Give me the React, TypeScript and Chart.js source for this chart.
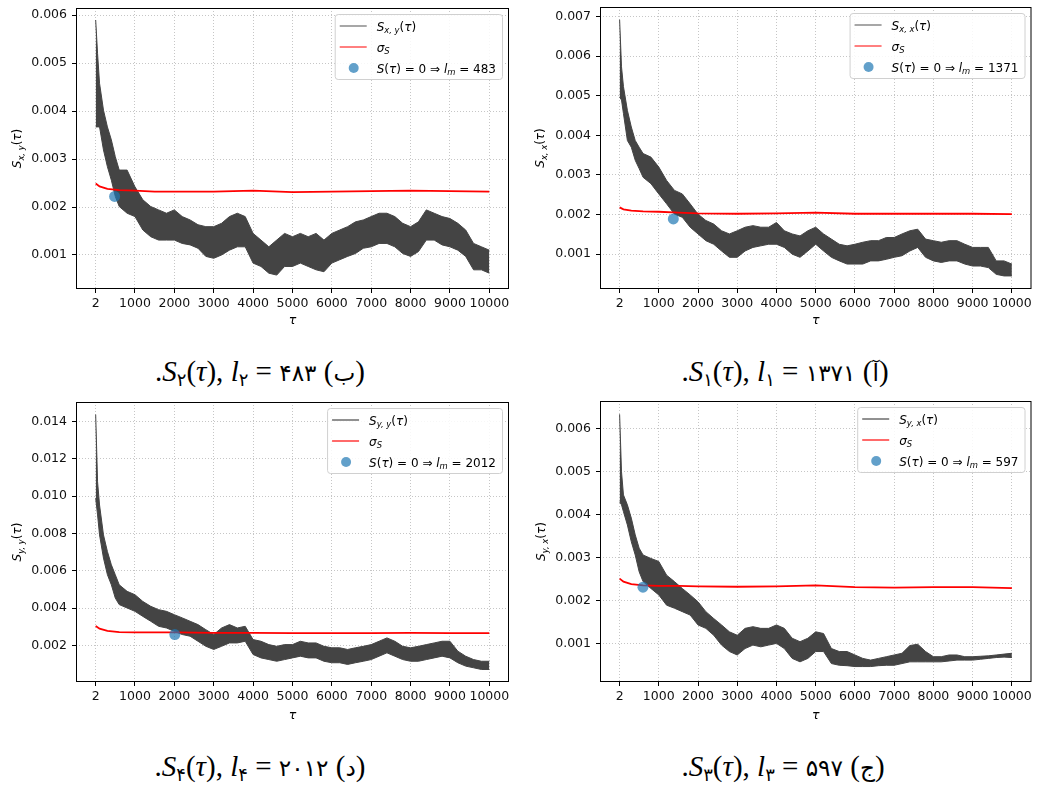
import React, { useEffect, useRef } from 'react';
import { Chart, registerables } from 'chart.js';
Chart.register(...registerables);

// ---------------- data ----------------
const TAU = [2, 50, 100, 200, 300, 400, 500, 600, 800, 1000, 1200, 1400, 1600, 1800, 2000, 2200, 2400, 2600, 2800, 3000, 3200, 3400, 3600, 3800, 4000, 4200, 4400, 4600, 4800, 5000, 5200, 5400, 5600, 5800, 6000, 6200, 6400, 6600, 6800, 7000, 7200, 7400, 7600, 7800, 8000, 8200, 8400, 8600, 8800, 9000, 9200, 9400, 9600, 9800, 10000];
const TAU_SIGMA = [2, 100, 300, 600, 1000, 1500, 2000, 3000, 4000, 5000, 6000, 7000, 8000, 9000, 10000];
const X_TICKS = [2, 1000, 2000, 3000, 4000, 5000, 6000, 7000, 8000, 9000, 10000];

// S_{x,y}  (panel ب)
const SXY_UPPER = [0.00590, 0.00520, 0.00458, 0.00402, 0.00367, 0.00340, 0.00305, 0.00277, 0.00277, 0.00242, 0.00215, 0.00201, 0.00194, 0.00187, 0.00194, 0.00180, 0.00173, 0.00163, 0.00159, 0.00159, 0.00166, 0.00180, 0.00187, 0.00180, 0.00145, 0.00131, 0.00117, 0.00131, 0.00145, 0.00138, 0.00145, 0.00138, 0.00145, 0.00131, 0.00145, 0.00152, 0.00159, 0.00169, 0.00173, 0.00180, 0.00187, 0.00187, 0.00180, 0.00166, 0.00159, 0.00169, 0.00194, 0.00187, 0.00180, 0.00176, 0.00166, 0.00152, 0.00124, 0.00117, 0.00110];
const SXY_LOWER = [0.00367, 0.00367, 0.00367, 0.00319, 0.00284, 0.00256, 0.00222, 0.00201, 0.00187, 0.00180, 0.00152, 0.00138, 0.00131, 0.00131, 0.00131, 0.00124, 0.00121, 0.00114, 0.00097, 0.00093, 0.00100, 0.00110, 0.00117, 0.00117, 0.00083, 0.00076, 0.00062, 0.00058, 0.00076, 0.00076, 0.00083, 0.00076, 0.00069, 0.00065, 0.00083, 0.00090, 0.00097, 0.00103, 0.00114, 0.00117, 0.00124, 0.00124, 0.00117, 0.00103, 0.00097, 0.00107, 0.00131, 0.00131, 0.00121, 0.00117, 0.00110, 0.00097, 0.00069, 0.00069, 0.00062];
const SIGMA_XY = [0.00249, 0.00243, 0.00238, 0.00235, 0.00234, 0.00232, 0.00232, 0.00232, 0.00234, 0.00231, 0.00232, 0.00233, 0.00234, 0.00233, 0.00232];
const LM_XY = 483;
const LM_XY_VAL = 0.00222;
const Y_TICKS_XY = [0.001, 0.002, 0.003, 0.004, 0.005, 0.006];

// S_{x,x}  (panel آ)
const SXX_UPPER = [0.00692, 0.00573, 0.00523, 0.00463, 0.00421, 0.00387, 0.00370, 0.00354, 0.00345, 0.00320, 0.00286, 0.00261, 0.00252, 0.00227, 0.00201, 0.00185, 0.00176, 0.00159, 0.00151, 0.00159, 0.00168, 0.00172, 0.00168, 0.00168, 0.00180, 0.00159, 0.00151, 0.00146, 0.00159, 0.00168, 0.00151, 0.00138, 0.00125, 0.00121, 0.00125, 0.00130, 0.00134, 0.00134, 0.00142, 0.00142, 0.00151, 0.00159, 0.00163, 0.00138, 0.00134, 0.00130, 0.00134, 0.00134, 0.00125, 0.00117, 0.00117, 0.00117, 0.00083, 0.00083, 0.00075];
const SXX_LOWER = [0.00497, 0.00489, 0.00455, 0.00387, 0.00370, 0.00337, 0.00316, 0.00294, 0.00278, 0.00252, 0.00227, 0.00201, 0.00193, 0.00168, 0.00151, 0.00134, 0.00125, 0.00108, 0.00092, 0.00092, 0.00108, 0.00117, 0.00121, 0.00125, 0.00125, 0.00117, 0.00100, 0.00092, 0.00108, 0.00125, 0.00108, 0.00092, 0.00083, 0.00075, 0.00075, 0.00075, 0.00083, 0.00083, 0.00087, 0.00092, 0.00096, 0.00108, 0.00117, 0.00092, 0.00083, 0.00079, 0.00083, 0.00083, 0.00075, 0.00070, 0.00070, 0.00066, 0.00049, 0.00045, 0.00045];
const SIGMA_XX = [0.00218, 0.00213, 0.00210, 0.00208, 0.00207, 0.00205, 0.00203, 0.00202, 0.00203, 0.00205, 0.00202, 0.00202, 0.00202, 0.00202, 0.00201];
const LM_XX = 1371;
const LM_XX_VAL = 0.00189;
const Y_TICKS_XX = [0.001, 0.002, 0.003, 0.004, 0.005, 0.006, 0.007];

// S_{y,y}  (panel د)
const SYY_UPPER = [0.01436, 0.01076, 0.00952, 0.00792, 0.00703, 0.00632, 0.00579, 0.00525, 0.00490, 0.00472, 0.00436, 0.00410, 0.00392, 0.00383, 0.00365, 0.00348, 0.00330, 0.00312, 0.00285, 0.00259, 0.00294, 0.00312, 0.00294, 0.00303, 0.00232, 0.00223, 0.00205, 0.00196, 0.00205, 0.00205, 0.00223, 0.00214, 0.00214, 0.00196, 0.00188, 0.00188, 0.00179, 0.00188, 0.00196, 0.00205, 0.00223, 0.00241, 0.00223, 0.00196, 0.00188, 0.00196, 0.00205, 0.00214, 0.00223, 0.00223, 0.00170, 0.00143, 0.00125, 0.00116, 0.00116];
const SYY_LOWER = [0.00988, 0.00899, 0.00792, 0.00668, 0.00579, 0.00525, 0.00454, 0.00419, 0.00401, 0.00383, 0.00356, 0.00330, 0.00303, 0.00294, 0.00276, 0.00259, 0.00250, 0.00223, 0.00196, 0.00179, 0.00196, 0.00214, 0.00214, 0.00223, 0.00152, 0.00134, 0.00125, 0.00116, 0.00125, 0.00134, 0.00143, 0.00134, 0.00134, 0.00116, 0.00108, 0.00108, 0.00099, 0.00108, 0.00116, 0.00125, 0.00143, 0.00161, 0.00143, 0.00125, 0.00116, 0.00116, 0.00125, 0.00134, 0.00143, 0.00134, 0.00108, 0.00090, 0.00081, 0.00072, 0.00072];
const SIGMA_YY = [0.00304, 0.00290, 0.00278, 0.00272, 0.00270, 0.00270, 0.00270, 0.00268, 0.00268, 0.00266, 0.00266, 0.00267, 0.00268, 0.00267, 0.00266];
const LM_YY = 2012;
const LM_YY_VAL = 0.00259;
const Y_TICKS_YY = [0.002, 0.004, 0.006, 0.008, 0.010, 0.012, 0.014];

// S_{y,x}  (panel ج)
const SYX_UPPER = [0.00634, 0.00500, 0.00446, 0.00423, 0.00392, 0.00353, 0.00322, 0.00306, 0.00298, 0.00291, 0.00259, 0.00244, 0.00228, 0.00213, 0.00197, 0.00174, 0.00158, 0.00143, 0.00127, 0.00119, 0.00135, 0.00139, 0.00135, 0.00135, 0.00143, 0.00135, 0.00112, 0.00104, 0.00112, 0.00127, 0.00123, 0.00088, 0.00081, 0.00081, 0.00073, 0.00065, 0.00061, 0.00065, 0.00069, 0.00073, 0.00077, 0.00095, 0.00098, 0.00081, 0.00069, 0.00069, 0.00073, 0.00073, 0.00069, 0.00069, 0.00070, 0.00071, 0.00073, 0.00075, 0.00077];
const SYX_LOWER = [0.00430, 0.00423, 0.00407, 0.00376, 0.00337, 0.00306, 0.00267, 0.00244, 0.00228, 0.00213, 0.00189, 0.00182, 0.00174, 0.00166, 0.00143, 0.00135, 0.00119, 0.00096, 0.00081, 0.00073, 0.00088, 0.00096, 0.00092, 0.00096, 0.00100, 0.00088, 0.00065, 0.00057, 0.00065, 0.00081, 0.00081, 0.00053, 0.00049, 0.00048, 0.00046, 0.00046, 0.00046, 0.00048, 0.00049, 0.00049, 0.00053, 0.00057, 0.00057, 0.00057, 0.00057, 0.00057, 0.00059, 0.00061, 0.00061, 0.00061, 0.00063, 0.00065, 0.00067, 0.00068, 0.00067];
const SIGMA_YX = [0.00251, 0.00244, 0.00238, 0.00235, 0.00234, 0.00234, 0.00233, 0.00232, 0.00233, 0.00235, 0.00231, 0.00230, 0.00231, 0.00231, 0.00229];
const LM_YX = 597;
const LM_YX_VAL = 0.00231;
const Y_TICKS_YX = [0.001, 0.002, 0.003, 0.004, 0.005, 0.006];

// ---------------- rich text helpers ----------------
type Seg = { t: string; it?: boolean; sub?: boolean };
const FONT = '"DejaVu Sans", sans-serif';
function segFont(s: Seg, size: number) {
  return `${s.it ? 'italic ' : ''}${s.sub ? size * 0.7 : size}px ${FONT}`;
}
function segsWidth(ctx: CanvasRenderingContext2D, segs: Seg[], size: number) {
  let w = 0;
  for (const s of segs) {
    ctx.font = segFont(s, size);
    w += ctx.measureText(s.t).width;
  }
  return w;
}
function drawSegs(ctx: CanvasRenderingContext2D, segs: Seg[], x: number, y: number, size: number) {
  ctx.textAlign = 'left';
  ctx.textBaseline = 'alphabetic';
  ctx.fillStyle = '#000';
  for (const s of segs) {
    ctx.font = segFont(s, size);
    ctx.fillText(s.t, x, s.sub ? y + size * 0.22 : y);
    x += ctx.measureText(s.t).width;
  }
}
const sLabel = (sub: string): Seg[] => [
  { t: 'S', it: true },
  { t: sub, it: true, sub: true },
  { t: '(' },
  { t: 'τ', it: true },
  { t: ')' },
];
const SIGMA_LABEL: Seg[] = [{ t: 'σ', it: true }, { t: 'S', it: true, sub: true }];
const zeroLabel = (n: number): Seg[] => [
  { t: 'S', it: true },
  { t: '(' },
  { t: 'τ', it: true },
  { t: ') = 0 ⇒ ' },
  { t: 'l', it: true },
  { t: 'm', it: true, sub: true },
  { t: ` = ${n}` },
];

type PanelCfg = {
  left: number; top: number; w: number; h: number;
  area: { l: number; t: number; r: number; b: number };
  yMin: number; yMax: number; yTicks: number[];
  upper: number[]; lower: number[]; sigma: number[];
  lm: number; lmVal: number; sub: string; topStyle: boolean; yLabelX: number;
  cap: { idx: string; num: string; letter: string; cx: number; base: number };
};

const PANELS: PanelCfg[] = [
  {
    left: 0, top: 0, w: 518, h: 330, area: { l: 76, t: 8, r: 509, b: 289 },
    yMin: 0.00029, yMax: 0.00615, yTicks: Y_TICKS_XY,
    upper: SXY_UPPER, lower: SXY_LOWER, sigma: SIGMA_XY, lm: LM_XY, lmVal: LM_XY_VAL,
    sub: 'x, y', topStyle: true, yLabelX: 17,
    cap: { idx: '۲', num: '۴۸۳', letter: 'ب', cx: 260, base: 380 },
  },
  {
    left: 520, top: 0, w: 517, h: 330, area: { l: 80, t: 7, r: 512, b: 289 },
    yMin: 0.00012, yMax: 0.00724, yTicks: Y_TICKS_XX,
    upper: SXX_UPPER, lower: SXX_LOWER, sigma: SIGMA_XX, lm: LM_XX, lmVal: LM_XX_VAL,
    sub: 'x, x', topStyle: true, yLabelX: 20,
    cap: { idx: '۱', num: '۱۳۷۱', letter: 'آ', cx: 785, base: 380 },
  },
  {
    left: 0, top: 395, w: 518, h: 330, area: { l: 76, t: 7, r: 509, b: 287 },
    yMin: 0.00005, yMax: 0.01503, yTicks: Y_TICKS_YY,
    upper: SYY_UPPER, lower: SYY_LOWER, sigma: SIGMA_YY, lm: LM_YY, lmVal: LM_YY_VAL,
    sub: 'y, y', topStyle: false, yLabelX: 17,
    cap: { idx: '۴', num: '۲۰۱۲', letter: 'د', cx: 260, base: 775 },
  },
  {
    left: 520, top: 395, w: 517, h: 330, area: { l: 80, t: 6, r: 513, b: 287 },
    yMin: 0.0001, yMax: 0.00665, yTicks: Y_TICKS_YX,
    upper: SYX_UPPER, lower: SYX_LOWER, sigma: SIGMA_YX, lm: LM_YX, lmVal: LM_YX_VAL,
    sub: 'y, x', topStyle: false, yLabelX: 21,
    cap: { idx: '۳', num: '۵۹۷', letter: 'ج', cx: 783, base: 775 },
  },
];

const BAND = '#444444';
const DOT = 'rgba(31,119,180,0.7)';
const TICK_FONT = { family: '"DejaVu Sans", sans-serif', size: 12.5 };

function Panel({ p }: { p: PanelCfg }) {
  const ref = useRef<HTMLCanvasElement>(null);
  useEffect(() => {
    const canvas = ref.current!;
    const decor = {
      id: 'decor',
      afterDraw(chart: any) {
        const ctx: CanvasRenderingContext2D = chart.ctx;
        const a = chart.chartArea;
        ctx.save();
        // frame
        ctx.strokeStyle = '#000';
        ctx.lineWidth = 1;
        ctx.setLineDash([]);
        ctx.strokeRect(a.left + 0.5, a.top + 0.5, a.right - a.left - 1, a.bottom - a.top - 1);

        // legend
        const fs = 12;
        const labels = [sLabel(p.sub), SIGMA_LABEL, zeroLabel(p.lm)];
        const tw = Math.max(...labels.map((l) => segsWidth(ctx, l, fs)));
        const bw = 42 + tw + 6;
        const bh = 65;
        const bx = a.right - 7 - bw;
        const by = a.top + 6;
        ctx.beginPath();
        (ctx as any).roundRect(bx + 0.5, by + 0.5, bw, bh, 3);
        ctx.fillStyle = 'rgba(255,255,255,0.85)';
        ctx.fill();
        ctx.strokeStyle = '#d0d0d0';
        ctx.lineWidth = 1;
        ctx.stroke();
        const rows = [by + 12, by + 33, by + 54];
        // handles
        ctx.beginPath();
        ctx.strokeStyle = p.topStyle ? '#8a8a8a' : '#222';
        ctx.lineWidth = p.topStyle ? 1.5 : 1;
        ctx.moveTo(bx + 5, rows[0]);
        ctx.lineTo(bx + 32, rows[0]);
        ctx.stroke();
        ctx.beginPath();
        ctx.strokeStyle = p.topStyle ? '#ff0000' : '#ff6a6a';
        ctx.lineWidth = p.topStyle ? 1 : 2;
        ctx.moveTo(bx + 5, rows[1]);
        ctx.lineTo(bx + 32, rows[1]);
        ctx.stroke();
        ctx.beginPath();
        ctx.fillStyle = DOT;
        ctx.arc(bx + 19, rows[2], 5, 0, Math.PI * 2);
        ctx.fill();
        labels.forEach((l, i) => drawSegs(ctx, l, bx + 42, rows[i] + 4.5, fs));

        // y label
        const yl = sLabel(p.sub);
        ctx.save();
        ctx.translate(p.yLabelX, (a.top + a.bottom) / 2);
        ctx.rotate(-Math.PI / 2);
        const yw = segsWidth(ctx, yl, 12);
        drawSegs(ctx, yl, -yw / 2, 4, 12);
        ctx.restore();

        // x label
        const xl: Seg[] = [{ t: 'τ', it: true }];
        const xw = segsWidth(ctx, xl, 12.5);
        drawSegs(ctx, xl, (a.left + a.right) / 2 - xw / 2, 324, 12.5);
        ctx.restore();
      },
    };

    const chart = new Chart(canvas, {
      type: 'line',
      data: {
        datasets: [
          {
            label: 'lm',
            data: [{ x: p.lm, y: p.lmVal }],
            showLine: false,
            pointRadius: 5.5,
            pointBackgroundColor: DOT,
            pointBorderWidth: 0,
            borderColor: DOT,
            order: 0,
          },
          {
            label: 'sigma',
            data: TAU_SIGMA.map((t, i) => ({ x: t, y: p.sigma[i] })),
            borderColor: '#ff0000',
            borderWidth: 1.8,
            pointRadius: 0,
            fill: false,
            order: 1,
          },
          {
            label: 'S upper',
            data: TAU.map((t, i) => ({ x: t, y: p.upper[i] })),
            borderColor: BAND,
            backgroundColor: BAND,
            borderWidth: 1,
            pointRadius: 0,
            fill: '+1',
            order: 2,
          },
          {
            label: 'S lower',
            data: TAU.map((t, i) => ({ x: t, y: p.lower[i] })),
            borderColor: BAND,
            borderWidth: 1,
            pointRadius: 0,
            fill: false,
            order: 3,
          },
        ] as any,
      },
      options: {
        responsive: false,
        animation: false,
        devicePixelRatio: 1,
        events: [],
        layout: { padding: { left: 0, top: p.area.t, right: p.w - p.area.r, bottom: 0 } },
        plugins: { legend: { display: false }, tooltip: { enabled: false } },
        scales: {
          x: {
            type: 'linear',
            min: -498,
            max: 10500,
            afterBuildTicks: (s: any) => {
              s.ticks = X_TICKS.map((v) => ({ value: v }));
            },
            afterFit: (s: any) => {
              s.height = p.h - p.area.b;
              s.paddingLeft = 0;
              s.paddingRight = 0;
            },
            ticks: {
              autoSkip: false,
              maxRotation: 0,
              minRotation: 0,
              padding: 3,
              color: '#111',
              font: TICK_FONT,
              callback: (v: any) => String(v),
            },
            grid: {
              color: '#b8b8b8',
              lineWidth: 0.8,
              drawTicks: true,
              tickLength: 4,
              tickColor: '#000',
              tickWidth: 1,
              tickBorderDash: [],
            },
            border: { display: false, dash: [1, 2] },
          },
          y: {
            type: 'linear',
            min: p.yMin,
            max: p.yMax,
            afterBuildTicks: (s: any) => {
              s.ticks = p.yTicks.map((v) => ({ value: v }));
            },
            afterFit: (s: any) => {
              s.width = p.area.l;
              s.paddingTop = 0;
              s.paddingBottom = 0;
            },
            ticks: {
              padding: 5,
              color: '#111',
              font: TICK_FONT,
              callback: (v: any) => Number(v).toFixed(3),
            },
            grid: {
              color: '#b8b8b8',
              lineWidth: 0.8,
              drawTicks: true,
              tickLength: 4,
              tickColor: '#000',
              tickWidth: 1,
              tickBorderDash: [],
            },
            border: { display: false, dash: [1, 2] },
          },
        },
      } as any,
      plugins: [decor],
    });
    return () => chart.destroy();
  }, [p]);
  return (
    <canvas
      ref={ref}
      width={p.w}
      height={p.h}
      style={{ position: 'absolute', left: p.left, top: p.top, width: p.w, height: p.h }}
    />
  );
}

function Caption({ c }: { c: PanelCfg['cap'] }) {
  const sub: React.CSSProperties = {
    fontSize: '0.62em',
    verticalAlign: '-0.28em',
    fontStyle: 'normal',
    fontFamily: '"DejaVu Sans", sans-serif',
    lineHeight: 0,
  };
  const fa: React.CSSProperties = { fontFamily: '"DejaVu Sans", sans-serif', fontSize: '0.8em' };
  return (
    <div
      style={{
        position: 'absolute',
        left: c.cx - 200,
        width: 400,
        top: c.base - 24,
        textAlign: 'center',
        fontFamily: '"Liberation Serif", "DejaVu Serif", serif',
        fontSize: 29,
        lineHeight: '30px',
        whiteSpace: 'nowrap',
        color: '#000',
      }}
    >
      <bdo dir="ltr">
        .<i>S</i>
        <span style={sub}>{c.idx}</span>(<i>τ</i>),{' '}
        <i>l</i>
        <span style={sub}>{c.idx}</span> = <span style={fa}>{c.num}</span> (<span style={fa}>{c.letter}</span>)
      </bdo>
    </div>
  );
}

export default function App() {
  return (
    <div
      style={{
        position: 'fixed',
        left: 0,
        top: 0,
        width: 1037,
        height: 789,
        background: '#fff',
        overflow: 'hidden',
      }}
    >
      {PANELS.map((p, i) => (
        <Panel key={i} p={p} />
      ))}
      {PANELS.map((p, i) => (
        <Caption key={'c' + i} c={p.cap} />
      ))}
    </div>
  );
}
